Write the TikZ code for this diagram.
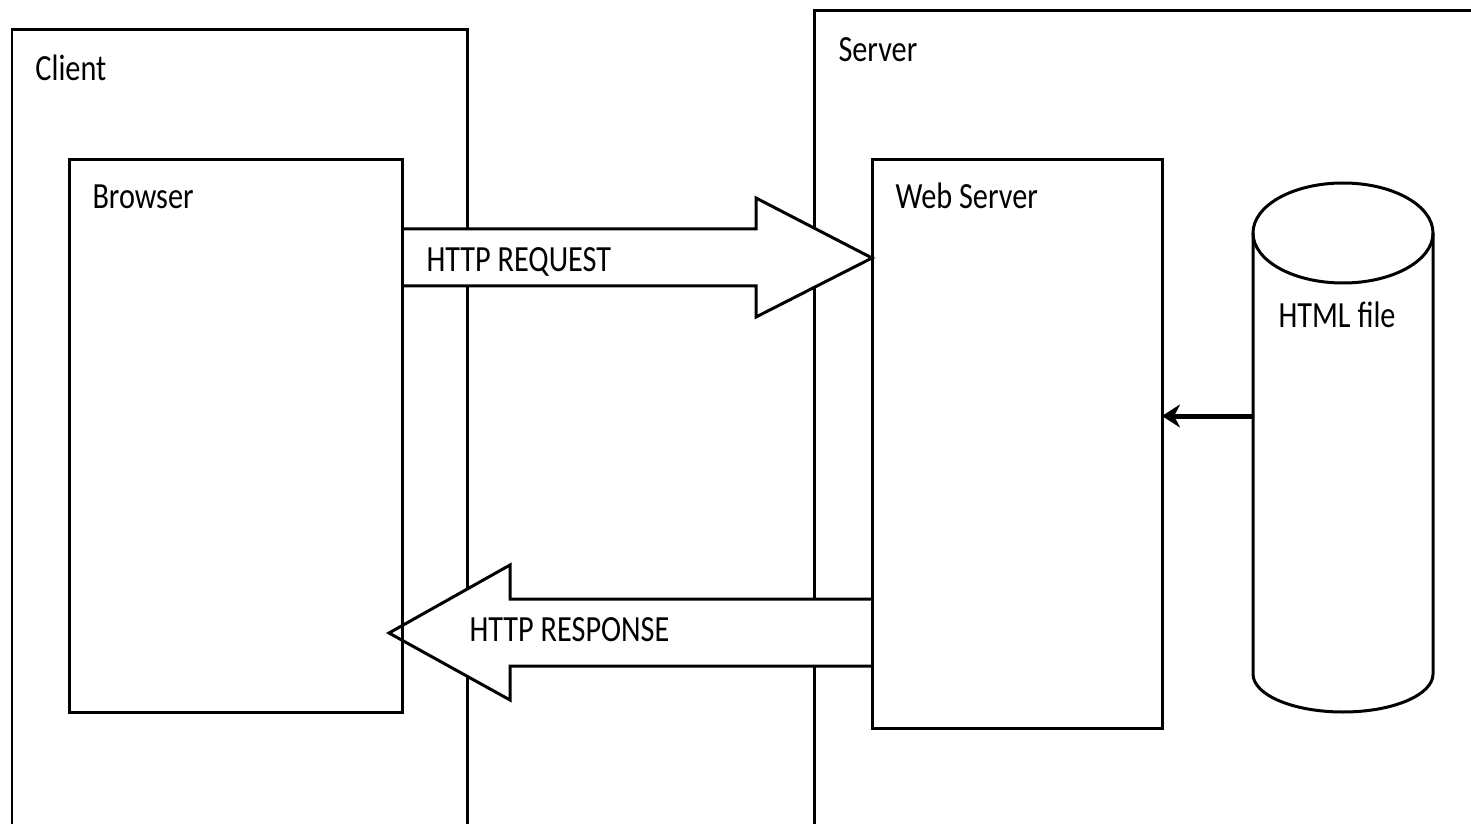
\documentclass[tikz,border=0pt]{standalone}
\usepackage{fontspec}
\newfontfamily\diagfont[FakeStretch=0.82]{Carlito}
\usetikzlibrary{arrows.meta}
\begin{document}
\begin{tikzpicture}[x=0.02cm,y=-0.02cm,
  line width=0.06cm,
  lbl/.style={inner sep=0pt,anchor=base west,font=\diagfont\fontsize{21}{25}\selectfont},
  innerbox/.style={rectangle,inner sep=0pt,outer sep=0pt,anchor=north west},
  blockarrow/.style={fill=white,draw,line join=miter}]
\useasboundingbox (0,0) rectangle (1471,824);
% containers
\draw (12,824) -- (12,30) -- (467,30) -- (467,824);
\draw (814,824) -- (814,11) -- (1471,11);
\node[lbl] (clientlbl) at (34,81) {Client};
\node[lbl] (serverlbl) at (837,62) {Server};
% inner boxes (positions)
\node[innerbox,minimum width=333*0.02cm,minimum height=552*0.02cm] (browser) at (69,160) {};
\node[innerbox,minimum width=290*0.02cm,minimum height=568*0.02cm] (websrv) at (872,160) {};
% block arrows
\filldraw[blockarrow] (browser.east |- 0,229) -- (756,229) -- (756,198) -- (websrv.west |- 0,258)
  -- (756,317) -- (756,286) -- (browser.east |- 0,286);
\filldraw[blockarrow] (websrv.west |- 0,599) -- (510,599) -- (510,565) -- (389,633)
  -- (510,700) -- (510,666) -- (websrv.west |- 0,666);
% inner box outlines on top
\draw (browser.north west) rectangle (browser.south east);
\draw (websrv.north west) rectangle (websrv.south east);
\node[lbl] (browserlbl) at (91,209) {Browser};
\node[lbl] (websrvlbl) at (894,209) {Web Server};
\node[lbl] (reqlbl) at (425,272) {HTTP REQUEST};
\node[lbl] (resplbl) at (468,641) {HTTP RESPONSE};
% cylinder
\draw (1343,233) ellipse [x radius=90, y radius=50];
\draw (1253,233) -- (1253,674) arc[start angle=180,end angle=0,x radius=90,y radius=38] -- (1433,233);
\node[lbl] (htmllbl) at (1277,328) {HTML file};
\coordinate (cylW) at (1253,416);
% small arrow
\draw[line width=0.1cm,-{Stealth[length=0.36cm,width=0.46cm]}] (cylW) -- (websrv.east |- cylW);
\end{tikzpicture}
\end{document}
